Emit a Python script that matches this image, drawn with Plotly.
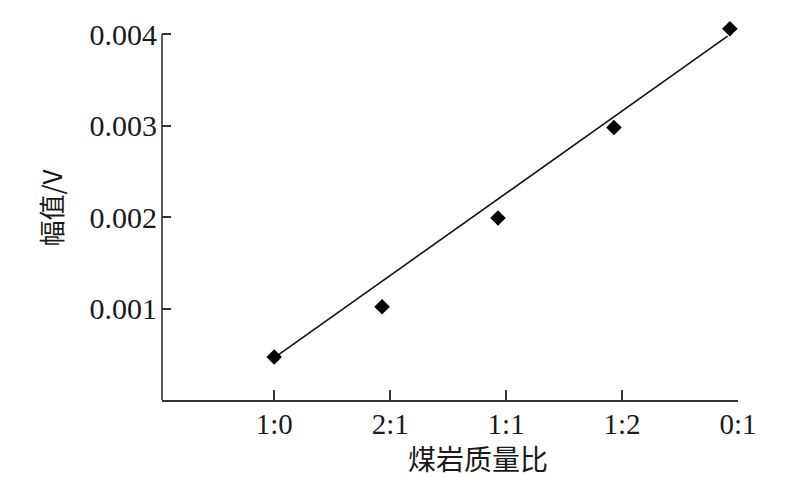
import plotly.graph_objects as go

# coal:rock mass ratio categories
ratio_labels = ['1:0', '2:1', '1:1', '1:2', '0:1']
ratio_pos = [0, 1, 2, 3, 4]

# measured amplitude (V), points sit slightly left of the ticks in the source
point_x = [0, 0.93, 1.93, 2.93, 3.93]
amplitude = [0.00047, 0.00102, 0.00199, 0.00298, 0.00406]

# fitted line endpoints as drawn
fit_x = [0.02, 3.91]
fit_y = [0.00048, 0.00398]

y_ticks = [0.001, 0.002, 0.003, 0.004]
y_labels = ['0.001', '0.002', '0.003', '0.004']
y_top = 0.004  # axis line stops at the last tick

axis_col = '#333333'

fig = go.Figure()

fig.add_trace(go.Scatter(
    x=fit_x, y=fit_y,
    mode='lines',
    line=dict(color='#111111', width=1.6),
    showlegend=False))

fig.add_trace(go.Scatter(
    x=point_x, y=amplitude,
    mode='markers',
    marker=dict(symbol='diamond', size=12, color='black'),
    showlegend=False))

# left spine only up to 0.004, the range goes a bit higher so the top point is not cut
fig.add_shape(type='line', xref='paper', yref='y',
              x0=0, x1=0, y0=0, y1=y_top,
              line=dict(color=axis_col, width=1.6))

# x title sits right of centre in the original, so use an annotation
fig.add_annotation(text='煤岩质量比', xref='paper', yref='paper',
                   x=0.549, y=0, yshift=-58, showarrow=False,
                   xanchor='center', yanchor='middle',
                   font=dict(size=28, family='Noto Sans CJK SC', color='#1a1a1a'))

# note: the page body has an 8px margin, margins below allow for it
fig.update_layout(
    width=800, height=492,
    margin=dict(l=154, r=70, t=8, b=100),
    paper_bgcolor='white',
    plot_bgcolor='white',
    font=dict(family='Liberation Serif, Noto Sans CJK SC', size=30, color='#1a1a1a'),
    xaxis=dict(
        range=[-0.968, 4],
        tickvals=ratio_pos,
        ticktext=ratio_labels,
        ticks='inside', ticklen=10, tickwidth=1.5, tickcolor=axis_col,
        showline=True, linecolor=axis_col, linewidth=1.6,
        showgrid=False, zeroline=False, automargin=False,
        tickfont=dict(size=29),
        ticklabelstandoff=-3,
    ),
    yaxis=dict(
        range=[0, 0.0042],
        tickvals=y_ticks,
        ticktext=y_labels,
        ticks='inside', ticklen=9, tickwidth=1.5, tickcolor=axis_col,
        showline=False,
        showgrid=False, zeroline=False, automargin=False,
        tickfont=dict(size=30),
        ticklabelstandoff=4,
        title=dict(text='幅值/V', font=dict(size=26, family='Noto Sans CJK SC'), standoff=19),
    ),
)

fig.write_html("out.html")
